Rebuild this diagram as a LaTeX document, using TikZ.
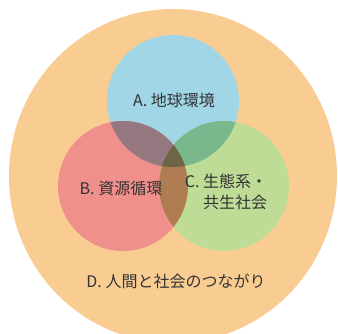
\documentclass[tikz,border=0pt]{standalone}
\usepackage{fontspec}
\newfontfamily\cjk{Noto Sans CJK JP}
\definecolor{orangec}{HTML}{F9CD91}
\definecolor{bluec}{HTML}{A0D6E6}
\definecolor{redc}{HTML}{F0908C}
\definecolor{greenc}{HTML}{BEDC96}
\definecolor{abc}{HTML}{967880}
\definecolor{acc}{HTML}{78B88C}
\definecolor{bcc}{HTML}{B07C52}
\definecolor{abcc}{HTML}{6E6446}
\definecolor{txt}{HTML}{333333}
\tikzset{lbl/.style={font=\cjk\fontsize{16}{21}\selectfont, text=txt, inner sep=0pt}}
\begin{document}
\begin{tikzpicture}[x=1pt,y=-1pt]
\useasboundingbox (0,0) rectangle (338,333);
\clip (0,0) rectangle (338,333);
\coordinate (cd) at (173,176);
\coordinate (ca) at (173,101);
\coordinate (cb) at (123,186);
\coordinate (cc) at (224,186);
\fill[orangec] (cd) ellipse [x radius=164, y radius=167];
\fill[bluec] (ca) circle (66);
\fill[redc] (cb) circle (65);
\fill[greenc] (cc) circle (65);
\begin{scope}
  \clip (ca) circle (66);
  \fill[abc] (cb) circle (65);
  \fill[acc] (cc) circle (65);
  \clip (cb) circle (65);
  \fill[abcc] (cc) circle (65);
\end{scope}
\begin{scope}
  \clip (cb) circle (65);
  \clip (cc) circle (65);
  \fill[bcc] (cc) circle (65);
  \clip (ca) circle (66);
  \fill[abcc] (cc) circle (65);
\end{scope}
\node[lbl] (ta) at (174,100) {A. 地球環境};
\node[lbl] (tb) at (121,188) {B. 資源循環};
\node[lbl, align=right] (tc) at (226,192) {C. 生態系・\\共生社会};
\node[lbl] (td) at (176,281) {D. 人間と社会のつながり};
\end{tikzpicture}
\end{document}
